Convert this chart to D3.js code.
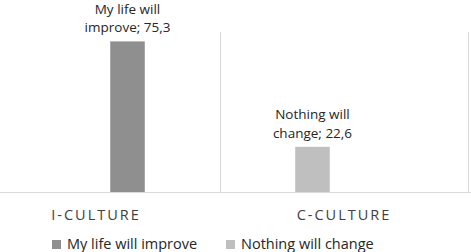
<!DOCTYPE html>
<html>
<head>
<meta charset="utf-8">
<script src="https://cdn.jsdelivr.net/npm/d3@7"></script>
<style>
  body { margin: 0; background: #fff; }
  svg { display: block; font-family: "Open Sans", sans-serif; }
</style>
</head>
<body>
<script>
// chart values
var categories = ["I-CULTURE", "C-CULTURE"];
var seriesNames = ["My life will improve", "Nothing will change"];
var improveValues = [75.3, null];
var nothingValues = [null, 22.6];
var seriesColors = ["#8f8f8f", "#bfbfbf"];

var width = 471, height = 252;

var series = [
  {name: seriesNames[0], values: improveValues, color: seriesColors[0]},
  {name: seriesNames[1], values: nothingValues, color: seriesColors[1]}
];

// "Nothing will change" sits on the left of each category in the original
var drawOrder = [seriesNames[1], seriesNames[0]];

var svg = d3.select("body").append("svg")
    .attr("width", width)
    .attr("height", height);

var x0 = d3.scaleBand().domain(categories).range([-28, 468]),
    x1 = d3.scaleBand().domain(drawOrder).range([0, x0.bandwidth()])
      .paddingInner(0.452).paddingOuter(1.194),
    y = d3.scaleLinear().domain([0, 80]).range([192, 32]);

// category separators
svg.append("g").selectAll("line")
  .data(categories)
  .enter().append("line")
    .attr("x1", function(d) { return x0(d) + x0.bandwidth() + 0.5; })
    .attr("x2", function(d) { return x0(d) + x0.bandwidth() + 0.5; })
    .attr("y1", y(80))
    .attr("y2", y(0))
    .attr("stroke", "#d9d9d9")
    .attr("stroke-width", 1);

// baseline
svg.append("line")
    .attr("x1", 0).attr("x2", width)
    .attr("y1", y(0) + 0.5).attr("y2", y(0) + 0.5)
    .attr("stroke", "#d9d9d9");

// bars, one flat list of points that have a value
var points = [];
series.forEach(function(s) {
  s.values.forEach(function(v, i) {
    if (v != null) points.push({series: s.name, color: s.color, cat: categories[i], value: v});
  });
});

svg.append("g").selectAll("rect")
  .data(points)
  .enter().append("rect")
    .attr("x", function(d) { return x0(d.cat) + x1(d.series); })
    .attr("y", function(d) { return y(d.value); })
    .attr("width", x1.bandwidth())
    .attr("height", function(d) { return y(0) - y(d.value); })
    .attr("fill", function(d) { return d.color; });

// data labels "series; value", wrapped before the last word
var lbl = svg.append("g").selectAll("text")
  .data(points)
  .enter().append("text")
    .attr("text-anchor", "middle")
    .attr("fill", "#262626")
    .style("font-size", "13.5px");

lbl.each(function(d) {
  var words = d.series.split(" ");
  var lines = [words.slice(0, -1).join(" "),
               words[words.length - 1] + "; " + String(d.value).replace(".", ",")];
  var cx = x0(d.cat) + x1(d.series) + x1.bandwidth() / 2;
  var base = y(d.value) - 9;
  d3.select(this).selectAll("tspan")
    .data(lines)
    .enter().append("tspan")
      .attr("x", cx)
      .attr("y", function(t, i) { return base - (lines.length - 1 - i) * 18.5; })
      .text(function(t) { return t; });
});

// category axis
var axis = svg.append("g")
    .attr("transform", "translate(0," + y(0) + ")")
    .call(d3.axisBottom(x0).tickSize(0).tickPadding(0));
axis.select(".domain").remove();
axis.selectAll("text")
    .attr("y", 28)
    .attr("dy", null)
    .attr("fill", "#404040")
    .style("font-family", "'Open Sans', sans-serif")
    .style("font-size", "14.5px")
    .style("letter-spacing", "2px");

// legend
var legendX = [52, 226];
var legend = svg.append("g").selectAll("g")
  .data(series)
  .enter().append("g")
    .attr("transform", function(d, i) { return "translate(" + legendX[i] + ",240)"; });

legend.append("rect")
    .attr("width", 9)
    .attr("height", 9)
    .attr("fill", function(d) { return d.color; });

legend.append("text")
    .attr("x", 15)
    .attr("y", 9)
    .attr("fill", "#262626")
    .style("font-size", "14.5px")
    .text(function(d) { return d.name; });
</script>
</body>
</html>
